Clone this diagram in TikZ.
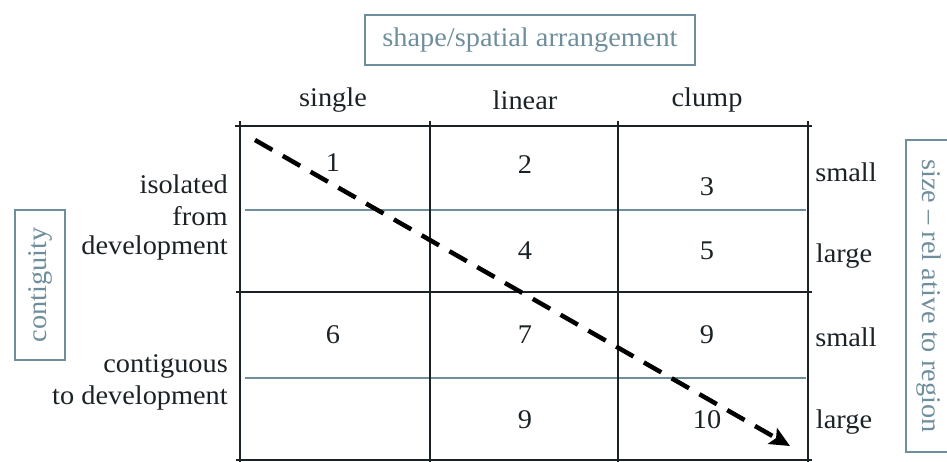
\documentclass[tikz,border=0pt]{standalone}
\usepackage{fontspec}
\setmainfont{Liberation Serif}[FakeStretch=1.05]
\usetikzlibrary{arrows.meta}
\definecolor{gb}{HTML}{6F8E9C}
\definecolor{ink}{HTML}{1B2226}
\begin{document}
\begin{tikzpicture}[x=1pt,y=-1pt,
  lbl/.style={font=\fontsize{27}{29}\selectfont, text=ink, inner sep=0pt},
  boxlbl/.style={font=\fontsize{27}{29}\selectfont, text=gb, draw=gb, line width=1.6pt, inner sep=0pt},
  num/.style={font=\fontsize{27}{29}\selectfont, text=ink, inner sep=0pt},
  blk/.style={line width=1.4pt, draw=ink},
  gry/.style={line width=1.6pt, draw=gb},
  flow/.style={line width=4.5pt, dash pattern=on 20pt off 12pt, -{Stealth[length=20pt,width=18pt,inset=4pt]}}
]
\useasboundingbox (0,0) rectangle (947,462);
% title box
\node[boxlbl, minimum width=330pt, minimum height=50pt] (title) at (530,40) {shape/spatial arrangement};
% headers
\node[lbl] (hs) at (333,100) {single};
\node[lbl] (hl) at (525,100) {linear};
\node[lbl] (hc) at (707,100) {clump};
% grid
\draw[blk] (235,126) -- (812,126);
\draw[blk] (236,292) -- (812,292);
\draw[blk] (236,460) -- (812,460);
\draw[gry] (245,210) -- (806,210);
\draw[gry] (245,378) -- (806,378);
\foreach \x in {240,430,618,808} \draw[blk] (\x,121) -- (\x,462);
% numbers
\node[num] (n1) at (333,163) {1};
\node[num] (n2) at (525,165) {2};
\node[num] (n3) at (707,187) {3};
\node[num] (n4) at (525,251) {4};
\node[num] (n5) at (707,251) {5};
\node[num] (n6) at (333,335) {6};
\node[num] (n7) at (525,335) {7};
\node[num] (n9a) at (707,335) {9};
\node[num] (n9b) at (525,420) {9};
\node[num] (n10) at (707,420) {10};
% left labels
\node[lbl, anchor=east] (iso) at (228,184) {isolated};
\node[lbl] (from) at (200,216) {from};
\node[lbl, anchor=east] (dev) at (228,248) {development};
\node[lbl, anchor=east] (cont) at (228,366) {contiguous};
\node[lbl, anchor=east] (todev) at (228,398) {to development};
% contiguity box
\node[boxlbl, rotate=90, minimum width=150pt, minimum height=50pt] (contig) at (40,285) {contiguity};
% right labels
\node[lbl] (s1) at (846,172) {small};
\node[lbl] (l1) at (844,256) {large};
\node[lbl] (s2) at (846,337) {small};
\node[lbl] (l2) at (844,422) {large};
% size box
\node[boxlbl, rotate=-90, minimum width=312pt, minimum height=46pt] (size) at (929,296) {size -- rel ative to region};
% dashed arrow
\coordinate (a0) at (255,140);
\coordinate (a1) at (790,446);
\draw[flow] (a0) -- (a1);
\end{tikzpicture}
\end{document}
